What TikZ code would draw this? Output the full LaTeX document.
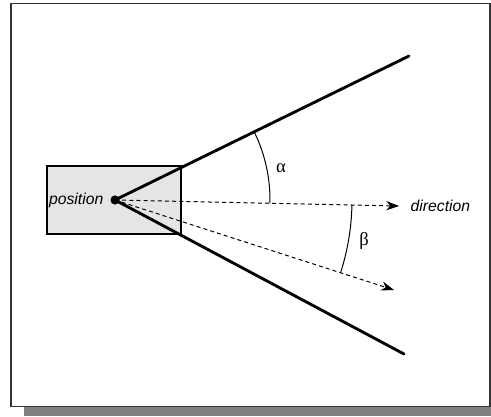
\documentclass[tikz,border=0pt]{standalone}
\usepackage{fontspec}
\setmainfont{Liberation Sans}
\newfontfamily\greekfont{Liberation Serif}
\usetikzlibrary{arrows.meta}

\tikzset{
  ray/.style={line width=2pt, line cap=round},
  dashray/.style={dash pattern=on 2.8pt off 2.2pt, line width=0.7pt, -{Stealth[length=9pt,width=6.5pt]}},
  anglearc/.style={line width=0.7pt},
}

\begin{document}
\begin{tikzpicture}[x=0.7pt, y=-0.7pt]\fontsize{11}{13}\selectfont
\useasboundingbox (0,0) rectangle (491,416);
\fill[gray] (24,407) rectangle (491,416);
\draw[line width=1.1pt, black!80] (11,3.5) rectangle (490,406.5);
\filldraw[fill=gray!20, line width=0.8pt] (47,166) rectangle (181,234);
\coordinate (pos) at (115,200);
\coordinate (top) at (409,56);
\coordinate (bot) at (404,354);
\coordinate (dir) at (399,206);
\coordinate (dev) at (394,290);
\draw[ray] (top) -- (pos) -- (bot);
\draw[dashray] (pos) -- (dir);
\draw[dashray] (pos) -- (dev);
\draw[anglearc] (pos) ++(-26.1:155) arc[start angle=-26.1, end angle=1.2, radius=155];
\draw[anglearc] (pos) ++(1.2:237) arc[start angle=1.2, end angle=17.9, radius=237];
\fill (pos) circle (4.6);
\node[anchor=east, font=\itshape, inner sep=1pt] (poslabel) at (105,200) {position};
\node[anchor=west, font=\itshape, inner sep=1pt] (dirlabel) at (409,206) {direction};
\node[font=\greekfont\fontsize{13}{15}\selectfont] (alpha) at (281,168) {α};
\node[font=\greekfont\fontsize{13}{15}\selectfont] (beta) at (364,241) {β};
\end{tikzpicture}
\end{document}
